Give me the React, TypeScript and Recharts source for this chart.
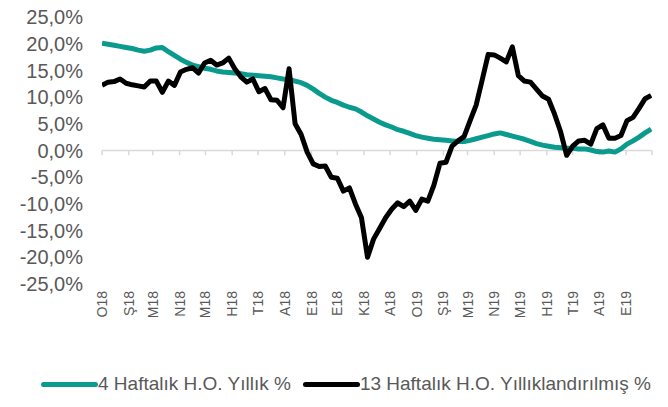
import { LineChart, Line, XAxis, YAxis, ReferenceLine, Legend } from "recharts";

// month labels (Turkish initials), one per month start
const MONTHS = ["O18", "Ş18", "M18", "N18", "M18", "H18", "T18", "A18", "E18", "E18", "K18", "A18",
  "O19", "Ş19", "M19", "N19", "M19", "H19", "T19", "A19", "E19"];

// weekly series, first week starting 1 Jan 2018
const weekly4 = [
  20.1, 19.9, 19.7, 19.5, 19.3, 19.1, 18.8, 18.6, 18.8, 19.2,
  19.3, 18.5, 17.8, 17.1, 16.5, 16.0, 15.7, 15.4, 15.2, 14.9,
  14.7, 14.6, 14.5, 14.4, 14.2, 14.1, 14.0, 13.9, 13.8, 13.6,
  13.4, 13.3, 13.0, 12.7, 12.2, 11.5, 10.7, 10.0, 9.4, 9.0,
  8.5, 8.1, 7.8, 7.2, 6.5, 5.9, 5.3, 4.8, 4.4, 3.9,
  3.6, 3.2, 2.8, 2.5, 2.3, 2.1, 2.0, 1.9, 1.8, 1.7,
  1.7, 1.9, 2.2, 2.5, 2.8, 3.1, 3.3, 3.0, 2.7, 2.4,
  2.1, 1.7, 1.3, 1.0, 0.8, 0.6, 0.5, 0.4, 0.4, 0.3,
  0.3, 0.1, -0.2, -0.3, -0.1, -0.3, 0.3, 1.2, 1.8, 2.5,
  3.3, 4.0,
];

const weekly13 = [
  12.2, 12.8, 12.9, 13.4, 12.6, 12.3, 12.1, 11.9, 13.0, 13.0,
  10.9, 13.0, 12.2, 14.7, 15.2, 15.5, 14.5, 16.4, 16.9, 16.0,
  16.4, 17.3, 15.3, 13.8, 12.8, 13.4, 11.0, 11.6, 9.5, 9.4,
  8.0, 15.3, 5.0, 3.0, -0.3, -2.5, -3.0, -2.9, -5.0, -5.2,
  -7.6, -7.0, -10.0, -12.6, -20.0, -16.6, -14.6, -12.6, -11.0, -9.8,
  -10.5, -9.5, -11.2, -9.1, -9.5, -6.5, -2.4, -2.2, 0.8, 1.8,
  2.6, 5.6, 8.5, 13.2, 18.0, 17.9, 17.3, 16.6, 19.4, 14.0,
  13.0, 12.8, 11.5, 10.2, 9.6, 6.8, 3.5, -0.9, 0.8, 1.8,
  1.9, 1.2, 4.1, 4.8, 2.3, 2.3, 2.8, 5.6, 6.2, 7.9,
  9.7, 10.3,
];

const Y_TICKS = [-25, -20, -15, -10, -5, 0, 5, 10, 15, 20, 25];

const TEAL = "#0a9a8e";
const FONT = "'Liberation Sans', Arial, sans-serif";

const DAY = 86400000;
const dayOf = (m: number) => (Date.UTC(2018, m, 1) - Date.UTC(2018, 0, 1)) / DAY;
const TICKS = [...MONTHS.map((_, i) => dayOf(i)), dayOf(MONTHS.length)];
const END = dayOf(MONTHS.length);

const data = weekly4.map((v, i) => ({ day: i * 7, w4: v, w13: weekly13[i] }));

const fmtPct = (v: number) => v.toFixed(1).replace(".", ",") + "%";

function MonthTick(props: any) {
  const { x, y, payload } = props;
  const idx = TICKS.indexOf(payload.value);
  const label = MONTHS[idx] ?? "";
  return (
    <text
      x={x}
      y={y}
      transform={`rotate(-90, ${x}, ${y})`}
      textAnchor="end"
      dy="0.36em"
      fontSize={14}
      fontFamily={FONT}
      fill="#595959"
    >
      {label}
    </text>
  );
}

function LegendBox() {
  const item = (color: string, text: string) => (
    <div style={{ display: "flex", alignItems: "center", marginRight: 12 }}>
      <span style={{ display: "inline-block", width: 57, height: 5, borderRadius: 3, background: color }} />
      <span style={{ fontSize: 19, color: "#595959", fontFamily: FONT, whiteSpace: "nowrap" }}>{text}</span>
    </div>
  );
  return (
    <div style={{ display: "flex", alignItems: "center", height: 46, paddingLeft: 41 }}>
      {item(TEAL, "4 Haftalık H.O. Yıllık %")}
      {item("#000000", "13 Haftalık H.O. Yıllıklandırılmış %")}
    </div>
  );
}

export default function App() {
  return (
    <div style={{ position: "absolute", left: 0, top: 0, width: 668, height: 407, background: "#fff" }}>
      <LineChart width={668} height={407} data={data} margin={{ top: 17, right: 16, bottom: 0, left: 0 }}>
        <XAxis
          type="number"
          dataKey="day"
          domain={[0, END]}
          ticks={TICKS}
          interval={0}
          allowDataOverflow
          axisLine={false}
          tickLine={false}
          tickSize={0}
          tickMargin={7}
          height={77}
          tick={<MonthTick />}
        />
        <YAxis
          type="number"
          domain={[-25, 25]}
          ticks={Y_TICKS}
          interval={0}
          width={102}
          axisLine={false}
          tickLine={false}
          tickSize={0}
          tickMargin={19}
          tickFormatter={fmtPct}
          tick={{ fontSize: 20, fill: "#595959", fontFamily: FONT }}
        />
        <ReferenceLine y={0} stroke="#d9d9d9" strokeWidth={1.5} />
        {TICKS.map((d) => (
          <ReferenceLine
            key={d}
            segment={[{ x: d, y: 0 }, { x: d, y: -0.9 }]}
            stroke="#d9d9d9"
            strokeWidth={1.5}
            ifOverflow="visible"
          />
        ))}
        <Line
          type="linear"
          dataKey="w4"
          stroke={TEAL}
          strokeWidth={5}
          dot={false}
          strokeLinejoin="round"
          isAnimationActive={false}
        />
        <Line
          type="linear"
          dataKey="w13"
          stroke="#000000"
          strokeWidth={5}
          dot={false}
          strokeLinejoin="round"
          isAnimationActive={false}
        />
        <Legend verticalAlign="bottom" content={<LegendBox />} wrapperStyle={{ left: 0, width: 668, height: 46 }} />
      </LineChart>
    </div>
  );
}
